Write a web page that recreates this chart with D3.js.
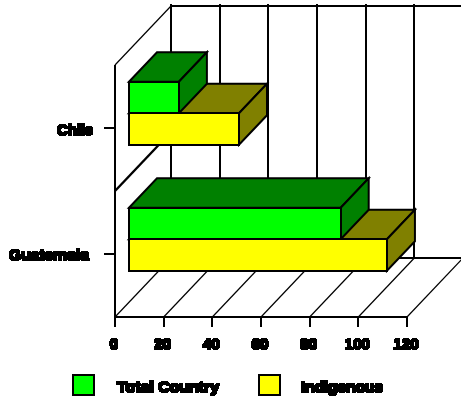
<!DOCTYPE html>
<html>
<head>
<meta charset="utf-8">
<script src="https://cdn.jsdelivr.net/npm/d3@7/dist/d3.min.js"></script>
<style>
html,body{margin:0;padding:0;background:#fff;overflow:hidden}
svg{display:block}
text{font-family:"Liberation Sans",Arial,sans-serif;font-weight:bold;fill:#000}
</style>
</head>
<body>
<svg id="chart" width="461" height="398"></svg>
<script>
const categories = ["Guatemala", "Chile"];
const seriesNames = ["Total Country", "Indigenous"];
const totalCountry = [87, 20.5];
const indigenous = [106, 45.2];
const xTicks = [0, 20, 40, 60, 80, 100, 120];
const fills = {
  "Total Country": {front: "#00ff00", top: "#008000", side: "#008000"},
  "Indigenous": {front: "#ffff00", top: "#808000", side: "#808000"}
};

// Plot frame and the oblique offset of the 3D projection
const plotLeft = 115, plotRight = 407, plotBottom = 317, plotTop = 65;
const depthX = 56, depthY = -59;

const svg = d3.select("#chart");
const defs = svg.append("defs");
const hard = defs.append("filter").attr("id", "hardText")
  .attr("filterUnits", "userSpaceOnUse").attr("x", 0).attr("y", 0).attr("width", 461).attr("height", 398);
hard.append("feMorphology").attr("operator", "dilate").attr("radius", "0.8 0.5").attr("result", "fat");
hard.append("feComponentTransfer").append("feFuncA")
  .attr("type", "discrete").attr("tableValues", "0 0 1 1");

const x = d3.scaleLinear().domain([0, 120]).range([plotLeft, plotRight]);
const y = d3.scaleBand().domain(categories).range([plotBottom, plotTop]).paddingInner(0.5).paddingOuter(0.25);
const band = d3.scaleBand().domain(seriesNames.slice().reverse()).range([y.bandwidth(), 0]);

const poly = (g, pts, fill, w) => g.append("polygon")
  .attr("points", pts.map(p => p.join(",")).join(" "))
  .attr("fill", fill).attr("stroke", "#000").attr("stroke-width", w).attr("stroke-linejoin", "miter");
const seg = (g, x1, y1, x2, y2, w, crispEdge) => g.append("line")
  .attr("x1", x1).attr("y1", y1).attr("x2", x2).attr("y2", y2)
  .attr("stroke", "#000").attr("stroke-width", w)
  .attr("shape-rendering", crispEdge ? "crispEdges" : "auto");

// Back wall, floor and left wall
const frame = svg.append("g");
seg(frame, plotLeft + depthX, plotTop + depthY, 461, plotTop + depthY, 2, true);
xTicks.forEach(t => {
  seg(frame, x(t) + depthX, plotTop + depthY - 2, x(t) + depthX, plotBottom + depthY, 2, true);
  seg(frame, x(t), plotBottom, x(t) + depthX, plotBottom + depthY, 1.2);
  seg(frame, x(t), plotBottom, x(t), plotBottom + 10, 2, true);
});
seg(frame, plotLeft + depthX, plotBottom + depthY, 461, plotBottom + depthY, 2, true);
seg(frame, plotLeft, plotTop, plotLeft + depthX, plotTop + depthY, 1.2);
const bandEdge = (plotBottom + plotTop) / 2;
seg(frame, plotLeft, bandEdge, plotLeft + depthX, bandEdge + depthY, 2.4);
seg(frame, plotLeft, plotTop, plotLeft, plotBottom + 10, 2, true);
seg(frame, plotLeft, plotBottom, plotRight, plotBottom, 2, true);

// Category ticks
categories.forEach(c => {
  const cy = y(c) + y.bandwidth() / 2;
  seg(frame, plotLeft - 11, cy, plotLeft, cy, 2, true);
});

// Boxes: the rear faces of the lower series go first, the upper box over them,
// and the lower series' front face closes each group
const offX = depthX / 4, offY = depthY / 4;
const dx = depthX / 2, dy = depthY / 2;
const bars = svg.append("g");
const geom = (cat, name, v) => {
  const x0 = x(0) + offX, x1 = x(v) + offX;
  const y0 = y(cat) + band(name) + offY;
  return {x0, x1, y0, y1: y0 + band.bandwidth(), c: fills[name]};
};
const rearFaces = (g, b) => {
  poly(g, [[b.x0, b.y0], [b.x0 + dx, b.y0 + dy], [b.x1 + dx, b.y0 + dy], [b.x1, b.y0]], b.c.top, 2);
  poly(g, [[b.x1, b.y0], [b.x1 + dx, b.y0 + dy], [b.x1 + dx, b.y1 + dy], [b.x1, b.y1]], b.c.side, 2);
};
const frontFace = (g, b) => poly(g, [[b.x0, b.y0], [b.x1, b.y0], [b.x1, b.y1], [b.x0, b.y1]], b.c.front, 2)
  .attr("shape-rendering", "crispEdges");
[1, 0].forEach(i => {
  const g = bars.append("g");
  const upper = geom(categories[i], seriesNames[0], totalCountry[i]);
  const lower = geom(categories[i], seriesNames[1], indigenous[i]);
  rearFaces(g, lower);
  rearFaces(g, upper);
  frontFace(g, upper);
  frontFace(g, lower);
});

// Axis text, stretched vertically and hardened to a one-bit look
const labels = svg.append("g").attr("filter", "url(#hardText)");
const label = (t, px, py, width, anchor) => {
  const el = labels.append("text")
    .attr("transform", `translate(${px},${py}) scale(1,1.2)`)
    .attr("font-size", 12).attr("text-anchor", anchor || "start").text(t);
  if (width) el.attr("textLength", width).attr("lengthAdjust", "spacingAndGlyphs");
  return el;
};
xTicks.forEach(t => label(t, x(t) - 1, 349, String(t).length * 8.4, "middle"));
label(categories[1], 57, 135, 36);
label(categories[0], 9, 260, 80);

// Legend
const legend = svg.append("g");
const legendX = [73, 259], legendTextX = [117, 301], legendTextW = [102, 82];
seriesNames.forEach((s, i) => {
  legend.append("rect").attr("x", legendX[i]).attr("y", 375).attr("width", 21).attr("height", 20)
    .attr("fill", fills[s].front).attr("stroke", "#000").attr("stroke-width", 2)
    .attr("shape-rendering", "crispEdges");
  label(s, legendTextX[i], 392, legendTextW[i]);
});
</script>
</body>
</html>
